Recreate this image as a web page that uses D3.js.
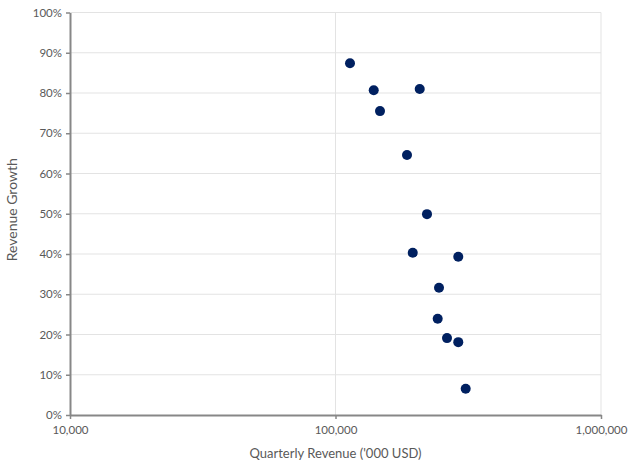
<!DOCTYPE html>
<html>
<head>
<meta charset="utf-8">
<script src="https://cdn.jsdelivr.net/npm/d3@7"></script>
<style>
  html, body { margin: 0; padding: 0; background: #fff; }
  svg { display: block; font-family: Lato, "Open Sans", sans-serif; }
</style>
</head>
<body>
<div id="chart"></div>
<script>
// Data
const revenue = [113400, 139300, 207600, 147100, 185900, 221100, 195400, 290000, 245400, 242600, 263000, 290000, 309300];
const growth  = [0.874, 0.807, 0.810, 0.755, 0.646, 0.499, 0.403, 0.393, 0.316, 0.239, 0.191, 0.181, 0.065];
const xTicks = [10000, 100000, 1000000];
const yTicks = [0, 0.1, 0.2, 0.3, 0.4, 0.5, 0.6, 0.7, 0.8, 0.9, 1.0];
const xTitle = "Quarterly Revenue ('000 USD)";
const yTitle = "Revenue Growth";

const W = 640, H = 465;
const margin = {top: 12.5, right: 39, bottom: 50, left: 70};
const iw = W - margin.left - margin.right;
const ih = H - margin.top - margin.bottom;

const svg = d3.select("#chart").append("svg").attr("width", W).attr("height", H);
const g = svg.append("g").attr("transform", `translate(${margin.left},${margin.top})`);

const x = d3.scaleLog().domain([10000, 1000000]).range([0, iw]);
const y = d3.scaleLinear().domain([0, 1]).range([ih, 0]);

// gridlines
g.append("g").selectAll("line").data(yTicks.filter(d => d > 0)).join("line")
  .attr("x1", 0).attr("x2", iw)
  .attr("y1", d => y(d)).attr("y2", d => y(d))
  .attr("stroke", "#e3e3e3").attr("stroke-width", 1);
g.append("g").selectAll("line").data(xTicks.slice(1)).join("line")
  .attr("x1", d => x(d)).attr("x2", d => x(d))
  .attr("y1", 0).attr("y2", ih)
  .attr("stroke", "#e3e3e3").attr("stroke-width", 1);

const fmtX = d3.format(",");
const fmtY = d3.format(".0%");

// x axis
const xAxis = g.append("g").attr("transform", `translate(0,${ih})`)
  .call(d3.axisBottom(x).tickValues(xTicks).tickFormat(fmtX).tickSize(4).tickSizeOuter(0));
// y axis
const yAxis = g.append("g")
  .call(d3.axisLeft(y).tickValues(yTicks).tickFormat(fmtY).tickSize(4).tickSizeOuter(0));

[xAxis, yAxis].forEach(a => {
  a.select(".domain").attr("stroke", "#878787").attr("stroke-width", 2);
  a.selectAll(".tick line").attr("stroke", "#878787").attr("stroke-width", 1.5);
  a.selectAll(".tick text").attr("fill", "#595959").style("font-size", "11.5px").style("font-family", "Lato, 'Open Sans', sans-serif");
});
xAxis.selectAll(".tick text").attr("dy", "0.71em").attr("y", 11);
yAxis.selectAll(".tick text").attr("x", -8);

// points
g.append("g").selectAll("circle").data(revenue.map((r, i) => ({r, gr: growth[i]}))).join("circle")
  .attr("cx", d => x(d.r)).attr("cy", d => y(d.gr)).attr("r", 5)
  .attr("fill", "#002060");

// axis titles
svg.append("text").attr("x", margin.left + iw / 2).attr("y", 458)
  .attr("text-anchor", "middle").attr("fill", "#595959").style("font-size", "13px")
  .text(xTitle);
svg.append("text").attr("transform", `translate(17,${margin.top + ih / 2 - 4}) rotate(-90)`)
  .attr("text-anchor", "middle").attr("fill", "#595959").style("font-size", "14px")
  .text(yTitle);
</script>
</body>
</html>
